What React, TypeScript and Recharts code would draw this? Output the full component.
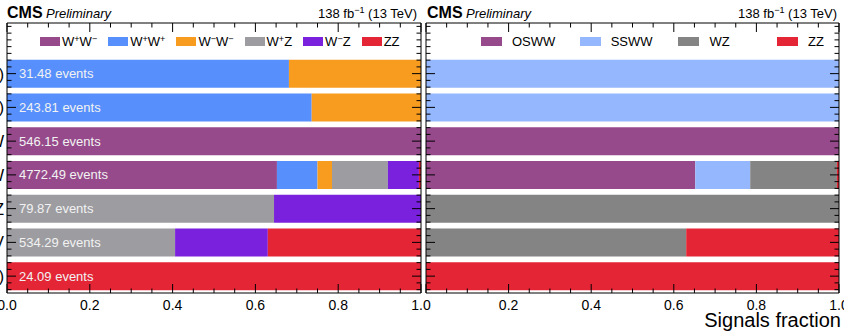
import { Bar, BarChart, XAxis, YAxis } from "recharts"

// row labels (cut off at the page edge in the original)
const rows = ["SS (−−)", "SS (++)", "OS WW", "OS incl. WW", "WZ", "ZV", "ZZ (4ℓ)"]
const events = [31.48, 243.81, 546.15, 4772.49, 79.87, 534.29, 24.09]

// left panel: fraction of each signal per row
const wpwm = [0, 0, 1, 0.652, 0, 0, 0]
const wpwp = [0.681, 0.736, 0, 0.098, 0, 0, 0]
const wmwm = [0.319, 0.264, 0, 0.035, 0, 0, 0]
const wpz = [0, 0, 0, 0.135, 0.645, 0.406, 0]
const wmz = [0, 0, 0, 0.075, 0.355, 0.224, 0]
const zzLeft = [0, 0, 0, 0.005, 0, 0.37, 1]

// right panel: grouped signals
const osww = [0, 0, 1, 0.652, 0, 0, 0]
const ssww = [1, 1, 0, 0.133, 0, 0, 0]
const wz = [0, 0, 0, 0.21, 1, 0.63, 0]
const zzRight = [0, 0, 0, 0.005, 0, 0.37, 1]

const xTicks = [0, 0.05, 0.1, 0.15, 0.2, 0.25, 0.3, 0.35, 0.4, 0.45, 0.5, 0.55, 0.6, 0.65, 0.7, 0.75, 0.8, 0.85, 0.9, 0.95, 1]

type Series = { key: string; label: React.ReactNode; color: string; values: number[] }

const leftSeries: Series[] = [
  { key: "wpwm", label: <>W<sup>+</sup>W<sup>−</sup></>, color: "#964a8b", values: wpwm },
  { key: "wpwp", label: <>W<sup>+</sup>W<sup>+</sup></>, color: "#5790fc", values: wpwp },
  { key: "wmwm", label: <>W<sup>−</sup>W<sup>−</sup></>, color: "#f89c20", values: wmwm },
  { key: "wpz", label: <>W<sup>+</sup>Z</>, color: "#9c9ca1", values: wpz },
  { key: "wmz", label: <>W<sup>−</sup>Z</>, color: "#7a21dd", values: wmz },
  { key: "zz", label: "ZZ", color: "#e42536", values: zzLeft },
]

const rightSeries: Series[] = [
  { key: "osww", label: "OSWW", color: "#964a8b", values: osww },
  { key: "ssww", label: "SSWW", color: "#94b7fd", values: ssww },
  { key: "wz", label: "WZ", color: "#848484", values: wz },
  { key: "zz", label: "ZZ", color: "#e42536", values: zzRight },
]

const FONT = "'Liberation Sans', Arial, Helvetica, sans-serif"
const H = 332
const TOP = 23
const BOTTOM = 39
const STEP = (H - TOP - BOTTOM) / 8 / 5

function buildData(series: Series[]) {
  // first row is left empty: the legend sits there
  const blank: Record<string, any> = { name: "", events: null }
  series.forEach((s) => (blank[s.key] = 0))
  const out = [blank]
  rows.forEach((r, i) => {
    const row: Record<string, any> = { name: r, events: events[i] }
    series.forEach((s) => (row[s.key] = s.values[i]))
    out.push(row)
  })
  return out
}

function YTick(props: any) {
  const { x, y, index, payload, side, showLabel } = props
  const dir = side === "left" ? 1 : -1
  const lines = []
  for (let k = -2; k <= 2; k++) {
    const len = k === 0 && index > 0 ? 9 : 4.5
    lines.push(<line key={k} x1={x} x2={x + dir * len} y1={y + k * STEP} y2={y + k * STEP} stroke="#000" strokeWidth={1} />)
  }
  const ev = index > 0 ? events[index - 1] : null
  return (
    <g>
      {lines}
      {showLabel && index > 0 && (
        <text x={x - 3} y={y} dy={6} textAnchor="end" fontSize={16} fill="#000" fontFamily={FONT}>
          {payload.value}
        </text>
      )}
      {showLabel && ev != null && (
        <text x={x + 12} y={y} dy={4.5} fontSize={13} fill="#f2f2f2" fontFamily={FONT}>
          {ev.toFixed(2)} events
        </text>
      )}
    </g>
  )
}

function XTick(props: any) {
  const { x, y, payload, top, hideZero } = props
  const v = payload.value
  const major = Math.abs(v * 5 - Math.round(v * 5)) < 1e-6
  const len = major ? 9 : 4.5
  const dir = top ? 1 : -1
  return (
    <g>
      <line x1={x} x2={x} y1={y} y2={y + dir * len} stroke="#000" strokeWidth={1} />
      {!top && major && !(hideZero && v === 0) && (
        <text x={x} y={y + 17} textAnchor="middle" fontSize={14} fill="#000" fontFamily={FONT}>
          {v.toFixed(1)}
        </text>
      )}
    </g>
  )
}

function Panel({ series, width, left, right, showYLabels, hideZero }: any) {
  const data = buildData(series)
  const pos = { position: "absolute" as const, left: 0, top: 0 }
  const first = series[0].key
  return (
    <div style={{ position: "relative", width, height: H }}>
      {/* bars underneath */}
      <div style={pos}>
        <BarChart
          width={width}
          height={H}
          data={data}
          layout="vertical"
          margin={{ top: TOP, left, right, bottom: BOTTOM }}
        >
          <XAxis type="number" domain={[0, 1]} hide />
          <YAxis type="category" dataKey="name" hide />
          {series.map((s: Series) => (
            <Bar key={s.key} dataKey={s.key} stackId="a" fill={s.color} barSize={28} isAnimationActive={false} />
          ))}
        </BarChart>
      </div>
      {/* frame, ticks and labels on top */}
      <div style={pos}>
        <BarChart
          width={width}
          height={H}
          data={data}
          layout="vertical"
          margin={{ top: TOP - 1, left: left - 1, right: right - 1, bottom: BOTTOM - 30 }}
        >
          <XAxis
            type="number"
            domain={[0, 1]}
            ticks={xTicks}
            interval={0}
            height={30}
            tickSize={0}
            tickMargin={0}
            stroke="#000"
            tick={(p: any) => <XTick {...p} hideZero={hideZero} />}
          />
          <XAxis
            xAxisId="top"
            orientation="top"
            type="number"
            domain={[0, 1]}
            ticks={xTicks}
            interval={0}
            height={1}
            tickSize={0}
            tickMargin={0}
            stroke="#000"
            tick={(p: any) => <XTick {...p} top />}
          />
          <YAxis
            type="category"
            dataKey="name"
            width={1}
            interval={0}
            tickSize={0}
            tickMargin={0}
            stroke="#000"
            tick={(p: any) => <YTick {...p} side="left" showLabel={showYLabels} />}
          />
          <YAxis
            yAxisId="right"
            orientation="right"
            type="category"
            dataKey="name"
            width={1}
            interval={0}
            tickSize={0}
            tickMargin={0}
            stroke="#000"
            tick={(p: any) => <YTick {...p} side="right" showLabel={false} />}
          />
          {/* transparent series so both number axes get their ticks */}
          <Bar dataKey={first} stackId="b" fill="none" barSize={1} isAnimationActive={false} />
          <Bar dataKey={first} xAxisId="top" stackId="c" fill="none" barSize={1} isAnimationActive={false} />
        </BarChart>
      </div>
    </div>
  )
}

function Titles({ x0, x1 }: { x0: number; x1: number }) {
  return (
    <g fontFamily={FONT} fill="#000">
      <text x={x0} y={18} fontSize={16} fontWeight="bold">CMS</text>
      <text x={x0 + 39} y={18} fontSize={13} fontStyle="italic">Preliminary</text>
      <text x={x1} y={18} fontSize={13} textAnchor="end">
        138 fb<tspan dy={-5} fontSize={9}>−1</tspan>
        <tspan dy={5}> (13 TeV)</tspan>
      </text>
    </g>
  )
}

export default function App() {
  const css = `.leg sup { font-size: 0.7em; vertical-align: 0.45em; line-height: 0 } .panel svg { overflow: visible }`
  return (
    <div
      style={{
        position: "absolute",
        left: 0,
        top: 0,
        width: 844,
        height: H,
        overflow: "hidden",
        background: "#fff",
        fontFamily: FONT,
      }}
    >
      <style>{css}</style>
      <div className="panel" style={{ position: "absolute", left: 0, top: 0 }}>
        <Panel series={leftSeries} width={422} left={7} right={1} showYLabels hideZero={false} />
      </div>
      <div className="panel" style={{ position: "absolute", left: 421, top: 0 }}>
        <Panel series={rightSeries} width={423} left={5} right={5} showYLabels={false} hideZero />
      </div>

      {/* legends */}
      <div className="leg" style={{ position: "absolute", left: 40, top: 33, display: "flex", gap: 11, fontSize: 13 }}>
        {leftSeries.map((s) => (
          <div key={s.key} style={{ display: "flex", alignItems: "center", height: 16 }}>
            <span style={{ display: "inline-block", width: 20, height: 9, background: s.color, marginRight: 2 }} />
            <span>{s.label}</span>
          </div>
        ))}
      </div>
      <div className="leg" style={{ position: "absolute", left: 481, top: 33, display: "flex", fontSize: 13 }}>
        {rightSeries.map((s) => (
          <div key={s.key} style={{ display: "flex", alignItems: "center", height: 16, width: 98.7 }}>
            <span style={{ display: "inline-block", width: 21, height: 9, background: s.color, marginRight: 10 }} />
            <span>{s.label}</span>
          </div>
        ))}
      </div>

      <svg width={844} height={H} style={{ position: "absolute", left: 0, top: 0, pointerEvents: "none" }}>
        <Titles x0={7} x1={417} />
        <Titles x0={427} x1={837} />
        <text x={841} y={327} fontSize={20} textAnchor="end" fontFamily={FONT} fill="#000">
          Signals fraction
        </text>
      </svg>
    </div>
  )
}
